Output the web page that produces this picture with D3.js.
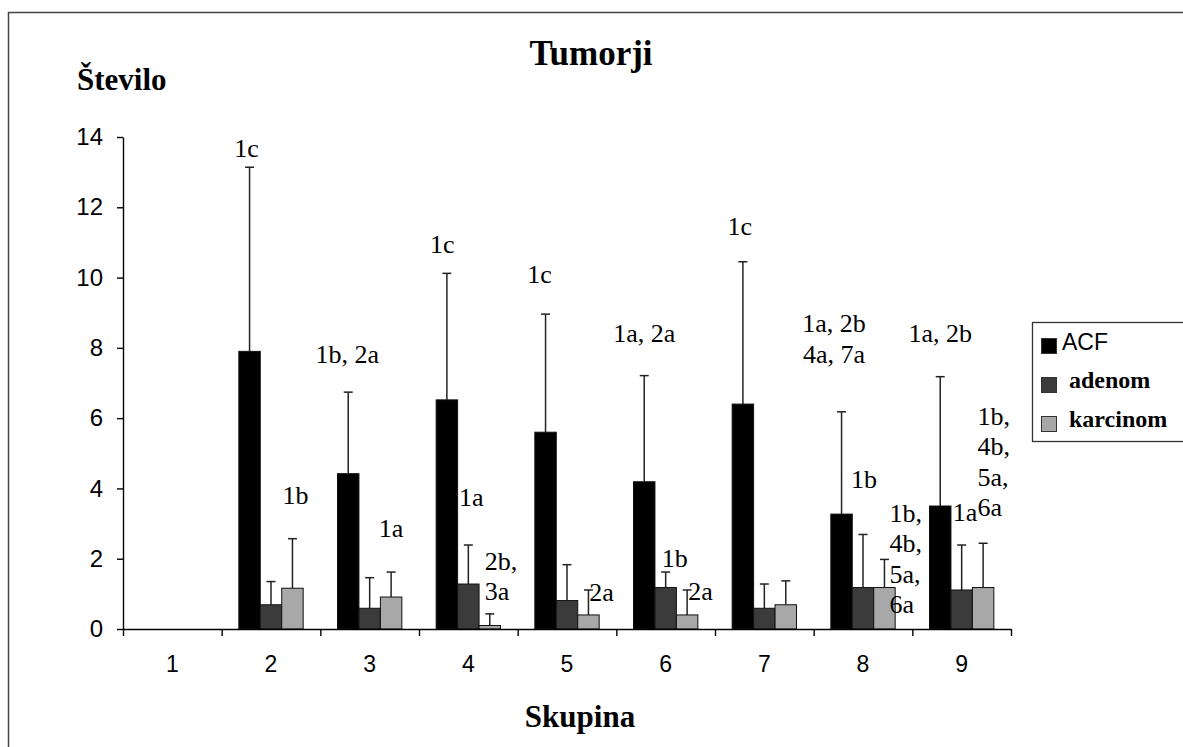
<!DOCTYPE html>
<html>
<head>
<meta charset="utf-8">
<script src="https://cdn.jsdelivr.net/npm/d3@7/dist/d3.min.js"></script>
<style>
body{margin:0;background:#fff;}
svg{display:block;}
</style>
</head>
<body>
<svg id="chart"></svg>
<script>
const skupine=['1','2','3','4','5','6','7','8','9'];
const serije=['ACF','adenom','karcinom'];
const acf=[null,7.9,4.42,6.52,5.6,4.19,6.4,3.27,3.5];
const adenom=[null,0.69,0.59,1.28,0.81,1.18,0.59,1.18,1.11];
const karcinom=[null,1.16,0.91,0.1,0.4,0.4,0.69,1.18,1.18];
const acfSD=[null,5.24,2.32,3.6,3.36,3.02,4.05,2.91,3.68];
const adenomSD=[null,0.66,0.87,1.11,1.02,0.44,0.69,1.51,1.28];
const karcinomSD=[null,1.41,0.71,0.33,0.71,0.71,0.68,0.8,1.26];
const yTicks=[0,2,4,6,8,10,12,14];

// oznake statisticne znacilnosti
const oznake=[
	{skupina:'2',serija:'ACF',vrstice:['1c']},
	{skupina:'2',serija:'karcinom',vrstice:['1b']},
	{skupina:'3',serija:'ACF',vrstice:['1b, 2a']},
	{skupina:'3',serija:'karcinom',vrstice:['1a']},
	{skupina:'4',serija:'ACF',vrstice:['1c']},
	{skupina:'4',serija:'adenom',vrstice:['1a']},
	{skupina:'4',serija:'karcinom',vrstice:['2b,','3a']},
	{skupina:'5',serija:'ACF',vrstice:['1c']},
	{skupina:'5',serija:'karcinom',vrstice:['2a']},
	{skupina:'6',serija:'ACF',vrstice:['1a, 2a']},
	{skupina:'6',serija:'adenom',vrstice:['1b']},
	{skupina:'6',serija:'karcinom',vrstice:['2a']},
	{skupina:'7',serija:'ACF',vrstice:['1c']},
	{skupina:'8',serija:'ACF',vrstice:['1a, 2b','4a, 7a']},
	{skupina:'8',serija:'adenom',vrstice:['1b']},
	{skupina:'8',serija:'karcinom',vrstice:['1b,','4b,','5a,','6a']},
	{skupina:'9',serija:'ACF',vrstice:['1a, 2b']},
	{skupina:'9',serija:'adenom',vrstice:['1a']},
	{skupina:'9',serija:'karcinom',vrstice:['1b,','4b,','5a,','6a']}
];
// postavitev oznak: [nivo na osi y, zamik x, sidro]
const oznakePoz=[
	[13.43,-3,'middle'],[3.56,3,'middle'],[7.57,-1,'middle'],[2.62,0,'middle'],
	[10.7,-4.5,'middle'],[3.5,3,'middle'],[1.68,-5,'start'],[9.85,-6,'middle'],
	[0.8,13,'middle'],[8.17,0,'middle'],[1.76,9,'middle'],[0.83,13.5,'middle'],
	[11.21,-3,'middle'],[8.45,-7.5,'middle'],[4.01,1,'middle'],[3.05,5,'start'],
	[8.17,0,'middle'],[3.07,-9,'start'],[5.81,-5.6,'start']
];

const serif="'Liberation Serif','Times New Roman',serif";
const sans="'Liberation Sans',Arial,sans-serif";
const barve={ACF:'#000000',adenom:'#3b3b3b',karcinom:'#a8a8a8'};

const vrednosti={ACF:acf,adenom:adenom,karcinom:karcinom};
const napake={ACF:acfSD,adenom:adenomSD,karcinom:karcinomSD};

const svg=d3.select('#chart').attr('width',1183).attr('height',747);

svg.append('rect').attr('x',8.5).attr('y',12.5).attr('width',1200).attr('height',800)
	.attr('fill','none').attr('stroke','#444').attr('stroke-width',1.5);

const y=d3.scaleLinear().domain([0,14]).range([629,137]);
const x0=d3.scaleBand().domain(skupine).range([123,1011]).padding(0);
const x1=d3.scaleBand().domain(serije).range([0,x0.bandwidth()]).paddingInner(0).paddingOuter(0.8);
const xMeje=d3.scaleLinear().domain([0,skupine.length]).range([123,1011]);

const podatki=[];
skupine.forEach((s,i)=>{
	serije.forEach(k=>{
		if(vrednosti[k][i]!=null) podatki.push({skupina:s,serija:k,v:vrednosti[k][i],sd:napake[k][i]});
	});
});

// error bars
const err=svg.append('g').attr('stroke','#222').attr('stroke-width',1.5);
podatki.forEach(d=>{
	const cx=x0(d.skupina)+x1(d.serija)+x1.bandwidth()/2;
	err.append('line').attr('x1',cx).attr('x2',cx).attr('y1',y(d.v)).attr('y2',y(d.v+d.sd));
	err.append('line').attr('x1',cx-4.5).attr('x2',cx+4.5).attr('y1',y(d.v+d.sd)).attr('y2',y(d.v+d.sd));
});

svg.append('g').selectAll('rect').data(podatki).enter().append('rect')
	.attr('x',d=>x0(d.skupina)+x1(d.serija))
	.attr('y',d=>y(d.v))
	.attr('width',x1.bandwidth())
	.attr('height',d=>y(0)-y(d.v))
	.attr('fill',d=>barve[d.serija])
	.attr('stroke','#111').attr('stroke-width',1);

// osi
const osY=svg.append('g').attr('transform','translate(123,0)')
	.call(d3.axisLeft(y).tickValues(yTicks).tickSize(6).tickSizeOuter(0).tickPadding(14));
osY.selectAll('text').style('font-family',sans).style('font-size','24px').attr('fill','#000');

const osX=svg.append('g').attr('transform','translate(0,629)')
	.call(d3.axisBottom(xMeje).tickValues(d3.range(0,skupine.length+1)).tickFormat('').tickSize(7).tickSizeOuter(0));

const osXnap=svg.append('g').attr('transform','translate(0,629)')
	.call(d3.axisBottom(x0).tickSize(0).tickPadding(27));
osXnap.select('.domain').remove();
osXnap.selectAll('text').style('font-family',sans).style('font-size','23px').attr('fill','#000');

svg.selectAll('.domain,.tick line').attr('stroke','#000').attr('stroke-width',1.4);

// oznake
const g=svg.append('g').style('font-family',serif).style('font-size','26px').attr('fill','#000');
oznake.forEach((o,i)=>{
	const p=oznakePoz[i];
	const cx=x0(o.skupina)+x1(o.serija)+x1.bandwidth()/2+p[1];
	o.vrstice.forEach((t,j)=>{
		g.append('text').text(t).attr('x',cx).attr('y',y(p[0])+j*30.5).attr('text-anchor',p[2]);
	});
});

// naslovi
svg.append('text').text('Tumorji').attr('x',591).attr('y',65).attr('text-anchor','middle')
	.style('font-family',serif).style('font-weight','bold').style('font-size','35px');
svg.append('text').text('Število').attr('x',77).attr('y',90)
	.style('font-family',serif).style('font-weight','bold').style('font-size','31px');
svg.append('text').text('Skupina').attr('x',580).attr('y',727).attr('text-anchor','middle')
	.style('font-family',serif).style('font-weight','bold').style('font-size','31px');

// legenda
const leg=svg.append('g');
leg.append('rect').attr('x',1032.5).attr('y',322.5).attr('width',200).attr('height',119)
	.attr('fill','#fff').attr('stroke','#333').attr('stroke-width',1.3);
const legY=d3.scalePoint().domain(serije).range([348,426]);
serije.forEach((k,i)=>{
	leg.append('rect').attr('x',1041.5).attr('y',legY(k)-9.5).attr('width',15).attr('height',15)
		.attr('fill',barve[k]).attr('stroke','#333').attr('stroke-width',1);
	leg.append('text').text(k)
		.attr('x',i==0?1062:1069).attr('y',legY(k)+(i==0?2:1))
		.style('font-family',i==0?sans:serif)
		.style('font-weight',i==0?'normal':'bold')
		.style('font-size',i==0?'23px':'24px');
});
</script>
</body>
</html>
